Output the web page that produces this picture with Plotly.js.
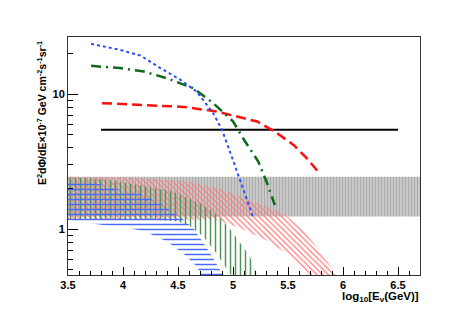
<!DOCTYPE html>
<html><head><meta charset="utf-8">
<script src="https://cdn.plot.ly/plotly-3.0.1.min.js"></script>
<style>html,body{margin:0;padding:0;background:#fff;}#c{width:457px;height:323px;}</style>
</head><body><div id="c"></div>
<script>
// ---- data (x = log10 E [GeV], y = E^2 dPhi/dE x 1e-7) ----
const blueE  = [3.71, 3.97, 4.16, 4.34, 4.52, 4.67, 4.82, 4.90, 5.00, 5.09, 5.185];
const blueF  = [23.6, 21.3, 19.3, 15.6, 12.8, 10.45, 7.23, 5.44, 3.25, 1.98, 1.21];
const greenE = [3.71, 3.97, 4.19, 4.40, 4.64, 4.82, 5.00, 5.11, 5.23, 5.31, 5.38];
const greenF = [16.2, 15.6, 14.7, 13.1, 11.07, 8.58, 6.3, 4.46, 3.17, 2.19, 1.51];
const redE   = [3.81, 4.22, 4.55, 4.85, 5.03, 5.22, 5.38, 5.55, 5.67, 5.76, 5.78];
const redF   = [8.58, 8.33, 8.05, 7.45, 6.83, 6.27, 5.28, 4.21, 3.36, 2.75, 2.57];
const blackE = [3.8, 6.5];
const blackF = [5.45, 5.45];

const grayE   = [3.5, 6.7];
const grayLo  = [1.24, 1.24];
const grayHi  = [2.45, 2.45];

const redTopE = [3.5, 4.0, 4.3, 4.6, 4.9, 5.2, 5.45, 5.61, 5.76, 5.91, 5.97];
const redTopF = [2.45, 2.42, 2.35, 2.25, 1.97, 1.58, 1.32, 1.05, 0.74, 0.5, 0.44];
const redBotE = [3.5, 4.0, 4.5, 4.85, 5.06, 5.3, 5.49, 5.61, 5.69];
const redBotF = [1.18, 1.18, 1.18, 1.18, 1.02, 0.83, 0.66, 0.53, 0.44];

const grnTopE = [3.5, 3.8, 4.16, 4.46, 4.7, 4.8, 4.9, 5.0, 5.09, 5.15, 5.2, 5.23];
const grnTopF = [2.42, 2.35, 2.12, 1.89, 1.55, 1.38, 1.18, 0.94, 0.74, 0.64, 0.5, 0.44];
const grnBotE = [3.5, 4.0, 4.3, 4.5, 4.61, 4.73, 4.85, 4.97, 5.0];
const grnBotF = [1.18, 1.18, 1.17, 1.14, 1.05, 0.88, 0.66, 0.47, 0.44];

const bluTopE = [3.5, 3.8, 3.95, 4.16, 4.34, 4.52, 4.64, 4.7, 4.79, 4.88, 4.92];
const bluTopF = [2.31, 2.15, 1.97, 1.82, 1.55, 1.23, 1.01, 0.85, 0.67, 0.5, 0.44];
const bluBotE = [3.5, 3.8, 4.03, 4.2, 4.4, 4.55, 4.67, 4.72];
const bluBotF = [1.17, 1.08, 1.03, 0.96, 0.81, 0.66, 0.53, 0.44];

const xTickVals = [3.5, 4, 4.5, 5, 5.5, 6, 6.5];
const xTickText = ['3.5', '4', '4.5', '5', '5.5', '6', '6.5'];
const yTickVals = [1, 10];
const yTickText = ['1', '10'];
const yMinorVals = [0.5, 0.6, 0.7, 0.8, 0.9, 2, 3, 4, 5, 6, 7, 8, 9, 20];

function band(topE, topF, botE, botF) {
  return {
    x: topE.concat(botE.slice().reverse()),
    y: topF.concat(botF.slice().reverse())
  };
}

const g = band(grayE, grayHi, grayE, grayLo);
const r = band(redTopE, redTopF, redBotE, redBotF);
const gr = band(grnTopE, grnTopF, grnBotE, grnBotF);
const b = band(bluTopE, bluTopF, bluBotE, bluBotF);

const traces = [
  {x: g.x, y: g.y, mode: 'lines', fill: 'toself', line: {width: 0, color: 'rgba(0,0,0,0)'},
   fillcolor: '#c4c4c4',
   fillpattern: {shape: '|', fgcolor: '#ababab', bgcolor: '#cbcbcb', size: 3, solidity: 0.4}},
  {x: r.x, y: r.y, mode: 'lines', fill: 'toself', line: {width: 0, color: 'rgba(0,0,0,0)'},
   fillpattern: {shape: '\\', fgcolor: '#ff7a7a', bgcolor: 'rgba(0,0,0,0)', size: 4, solidity: 0.3}},
  {x: gr.x, y: gr.y, mode: 'lines', fill: 'toself', line: {width: 0, color: 'rgba(0,0,0,0)'},
   fillpattern: {shape: '|', fgcolor: '#4f9458', bgcolor: 'rgba(0,0,0,0)', size: 5, solidity: 0.3}},
  {x: b.x, y: b.y, mode: 'lines', fill: 'toself', line: {width: 0, color: 'rgba(0,0,0,0)'},
   fillpattern: {shape: '-', fgcolor: '#4a6aff', bgcolor: 'rgba(0,0,0,0)', size: 5, solidity: 0.3}},
  {x: blackE, y: blackF, mode: 'lines', line: {color: '#000', width: 2.2}},
  {x: redE, y: redF, mode: 'lines', line: {color: '#ff1010', width: 2.5, dash: '10px,5px'}},
  {x: greenE, y: greenF, mode: 'lines', line: {color: '#0d6a1d', width: 2.5, dash: '10px,5px,2px,5px'}},
  {x: blueE, y: blueF, mode: 'lines', line: {color: '#2a4dff', width: 2, dash: 'dot'}}
];

const bold = {family: 'Liberation Sans, Arial, sans-serif', size: 11, color: '#000', weight: 700};

const layout = {
  width: 457, height: 323,
  margin: {l: 68, r: 37, t: 37, b: 48},
  paper_bgcolor: '#fff', plot_bgcolor: '#fff',
  showlegend: false,
  xaxis: {
    range: [3.5, 6.7], tickmode: 'array', tickvals: xTickVals, ticktext: xTickText,
    ticks: 'inside', ticklen: 8, tickcolor: '#000', tickwidth: 1,
    minor: {dtick: 0.1, tick0: 3.5, ticks: 'inside', ticklen: 4, tickcolor: '#000', showgrid: false},
    showgrid: false, zeroline: false, showline: true, mirror: true, linecolor: '#333', linewidth: 1,
    tickfont: bold
  },
  yaxis: {
    type: 'log', range: [Math.log10(0.458), Math.log10(26.5)],
    tickmode: 'array', tickvals: yTickVals, ticktext: yTickText,
    ticks: 'inside', ticklen: 10, tickcolor: '#000', tickwidth: 1,
    minor: {tickmode: 'array', tickvals: yMinorVals, ticks: 'inside', ticklen: 5, tickcolor: '#000', showgrid: false},
    showgrid: false, zeroline: false, showline: true, mirror: true, linecolor: '#333', linewidth: 1,
    tickfont: bold
  },
  annotations: [
    {text: 'E<sup>2</sup>dΦ/dE×10<sup>-7</sup> GeV cm<sup>-2</sup>s<sup>-1</sup>sr<sup>-1</sup>',
     xref: 'paper', yref: 'paper', x: -0.077, y: 0.68, textangle: -90,
     xanchor: 'center', yanchor: 'middle', showarrow: false,
     font: {family: 'Liberation Sans, Arial, sans-serif', size: 10.5, color: '#000', weight: 700}},
    {text: 'log<sub>10</sub>[E<sub>ν</sub>(GeV)]',
     xref: 'paper', yref: 'paper', x: 1, y: -0.094, borderpad: 0,
     xanchor: 'right', yanchor: 'middle', showarrow: false,
     font: {family: 'Liberation Sans, Arial, sans-serif', size: 11.5, color: '#000', weight: 700}}
  ]
};

Plotly.newPlot('c', traces, layout, {staticPlot: true, displayModeBar: false});
</script>
</body></html>
